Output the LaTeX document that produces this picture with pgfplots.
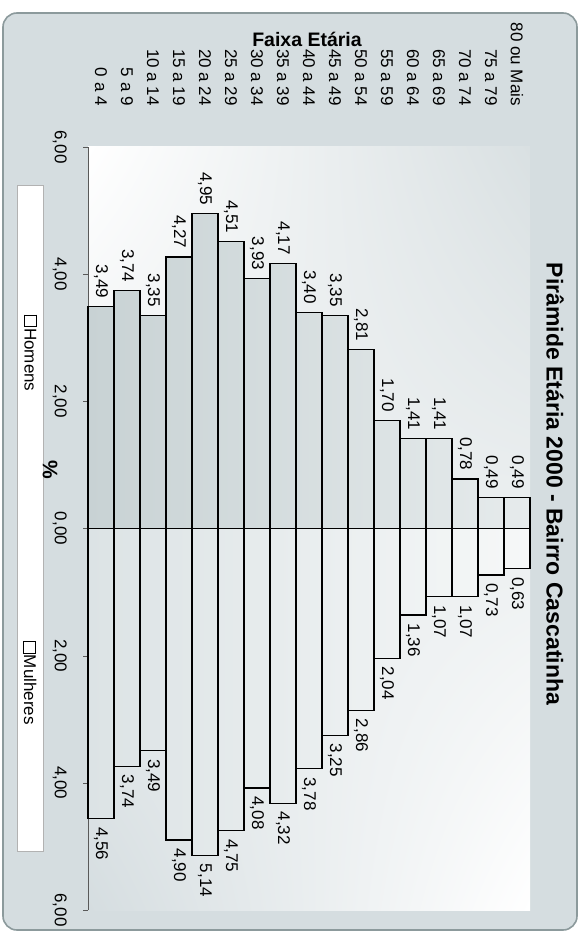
\documentclass[border=0pt]{standalone}
\usepackage{fontspec}
\setmainfont{Liberation Sans}
\usepackage{pgfplots}
\pgfplotsset{compat=1.18}
\usetikzlibrary{shadings}

\definecolor{panel}{HTML}{D5DDE0}
\definecolor{panelrim}{HTML}{8C9A9C}
\definecolor{homL}{HTML}{C8D2D4}
\definecolor{homR}{HTML}{E6EBEC}
\definecolor{mulL}{HTML}{DCE3E5}
\definecolor{mulR}{HTML}{F6F8F8}
\definecolor{bgtint}{HTML}{D9E0E2}

\newcommand\lbl{\fontsize{17}{20}\selectfont}
\newcommand\legsq{{\setlength{\fboxsep}{0pt}\setlength{\fboxrule}{0.8pt}\fcolorbox{black}{white}{\rule{0pt}{11pt}\hspace{11pt}}}\kern1pt}

\begin{document}
\begin{tikzpicture}
\useasboundingbox (0,0) rectangle (584pt,-933pt);
% panel
\draw[rounded corners=14pt, fill=panel, draw=panelrim, line width=1.6pt]
  (3pt,-13pt) rectangle (577pt,-930pt);
% legend
\draw[fill=white, draw=gray!60] (17pt,-185pt) rectangle (43pt,-851pt);
\node[rotate=-90, font=\lbl] at (30pt,-353pt) {\legsq Homens};
\node[rotate=-90, font=\lbl] at (30pt,-683pt) {\legsq Mulheres};

\begin{axis}[
  at={(88pt,-910pt)}, anchor=south west,
  scale only axis, width=442pt, height=763pt,
  xmin=-0.5, xmax=16.5, ymin=-6, ymax=6,
  clip=false,
  axis background/.style={upper left=white, lower right=white,
    upper right=bgtint, lower left=panel},
  axis y line*=left, axis x line*=top,
  x axis line style={draw=none},
  y axis line style={draw=gray!70!black, -},
  tick align=outside, major tick length=5pt,
  xtick style={draw=none},
  ytick style={draw=gray!70!black},
  xtick={0,...,16},
  xticklabels={0 a 4, 5 a 9, 10 a 14, 15 a 19, 20 a 24, 25 a 29, 30 a 34,
    35 a 39, 40 a 44, 45 a 49, 50 a 54, 55 a 59, 60 a 64, 65 a 69,
    70 a 74, 75 a 79, 80 ou Mais},
  xticklabel pos=upper,
  xticklabel style={rotate=-90, anchor=east, inner xsep=0pt, inner ysep=0pt,
    font=\lbl},
  xticklabel shift=36pt,
  ytick={-6,-4,-2,0,2,4,6},
  yticklabels={{6,00},{4,00},{2,00},{0,00},{2,00},{4,00},{6,00}},
  yticklabel style={rotate=-90, anchor=north, inner xsep=0pt, inner ysep=0pt,
    font=\lbl},
  yticklabel shift=16pt,
  /pgf/number format/use comma,
  /pgf/number format/fixed,
  /pgf/number format/fixed zerofill,
  /pgf/number format/precision=2,
  /pgf/number format/assume math mode=true,
  title={Pirâmide Etária 2000 - Bairro Cascatinha},
  title style={at={(axis description cs:1.057,0.5505)}, rotate=-90,
    anchor=center, font=\bfseries\fontsize{23}{26}\selectfont},
  xlabel={Faixa Etária},
  xlabel style={at={(axis description cs:0.4955,1.1415)}, anchor=center,
    rotate=0, font=\bfseries\fontsize{19.5}{22}\selectfont},
  ylabel={\%},
  ylabel style={at={(axis description cs:-0.086,0.577)}, anchor=center,
    rotate=-180, font=\bfseries\fontsize{21}{23}\selectfont},
]

% Homens
\addplot[ybar, bar width=1, bar shift=0pt, draw=black, line width=1.2pt,
  left color=homL, right color=homR,
  nodes near coords,
  every node near coord/.append style={rotate=-90, anchor=east,
    inner xsep=8pt, inner ysep=0pt, font=\lbl, black}]
coordinates {
  (0,3.49) (1,3.74) (2,3.35) (3,4.27) (4,4.95) (5,4.51) (6,3.93)
  (7,4.17) (8,3.40) (9,3.35) (10,2.81) (11,1.70) (12,1.41) (13,1.41)
  (14,0.78) (15,0.49) (16,0.49)
};

% Mulheres
\addplot[ybar, bar width=1, bar shift=0pt, draw=black, line width=1.2pt,
  left color=mulL, right color=mulR,
  point meta=explicit,
  nodes near coords,
  every node near coord/.append style={rotate=-90, anchor=west,
    inner xsep=8pt, inner ysep=0pt, font=\lbl, black}]
coordinates {
  (0,-4.56) [4.56] (1,-3.74) [3.74] (2,-3.49) [3.49] (3,-4.90) [4.90]
  (4,-5.14) [5.14] (5,-4.75) [4.75] (6,-4.08) [4.08] (7,-4.32) [4.32]
  (8,-3.78) [3.78] (9,-3.25) [3.25] (10,-2.86) [2.86] (11,-2.04) [2.04]
  (12,-1.36) [1.36] (13,-1.07) [1.07] (14,-1.07) [1.07] (15,-0.73) [0.73]
  (16,-0.63) [0.63]
};

\end{axis}
\end{tikzpicture}
\end{document}
